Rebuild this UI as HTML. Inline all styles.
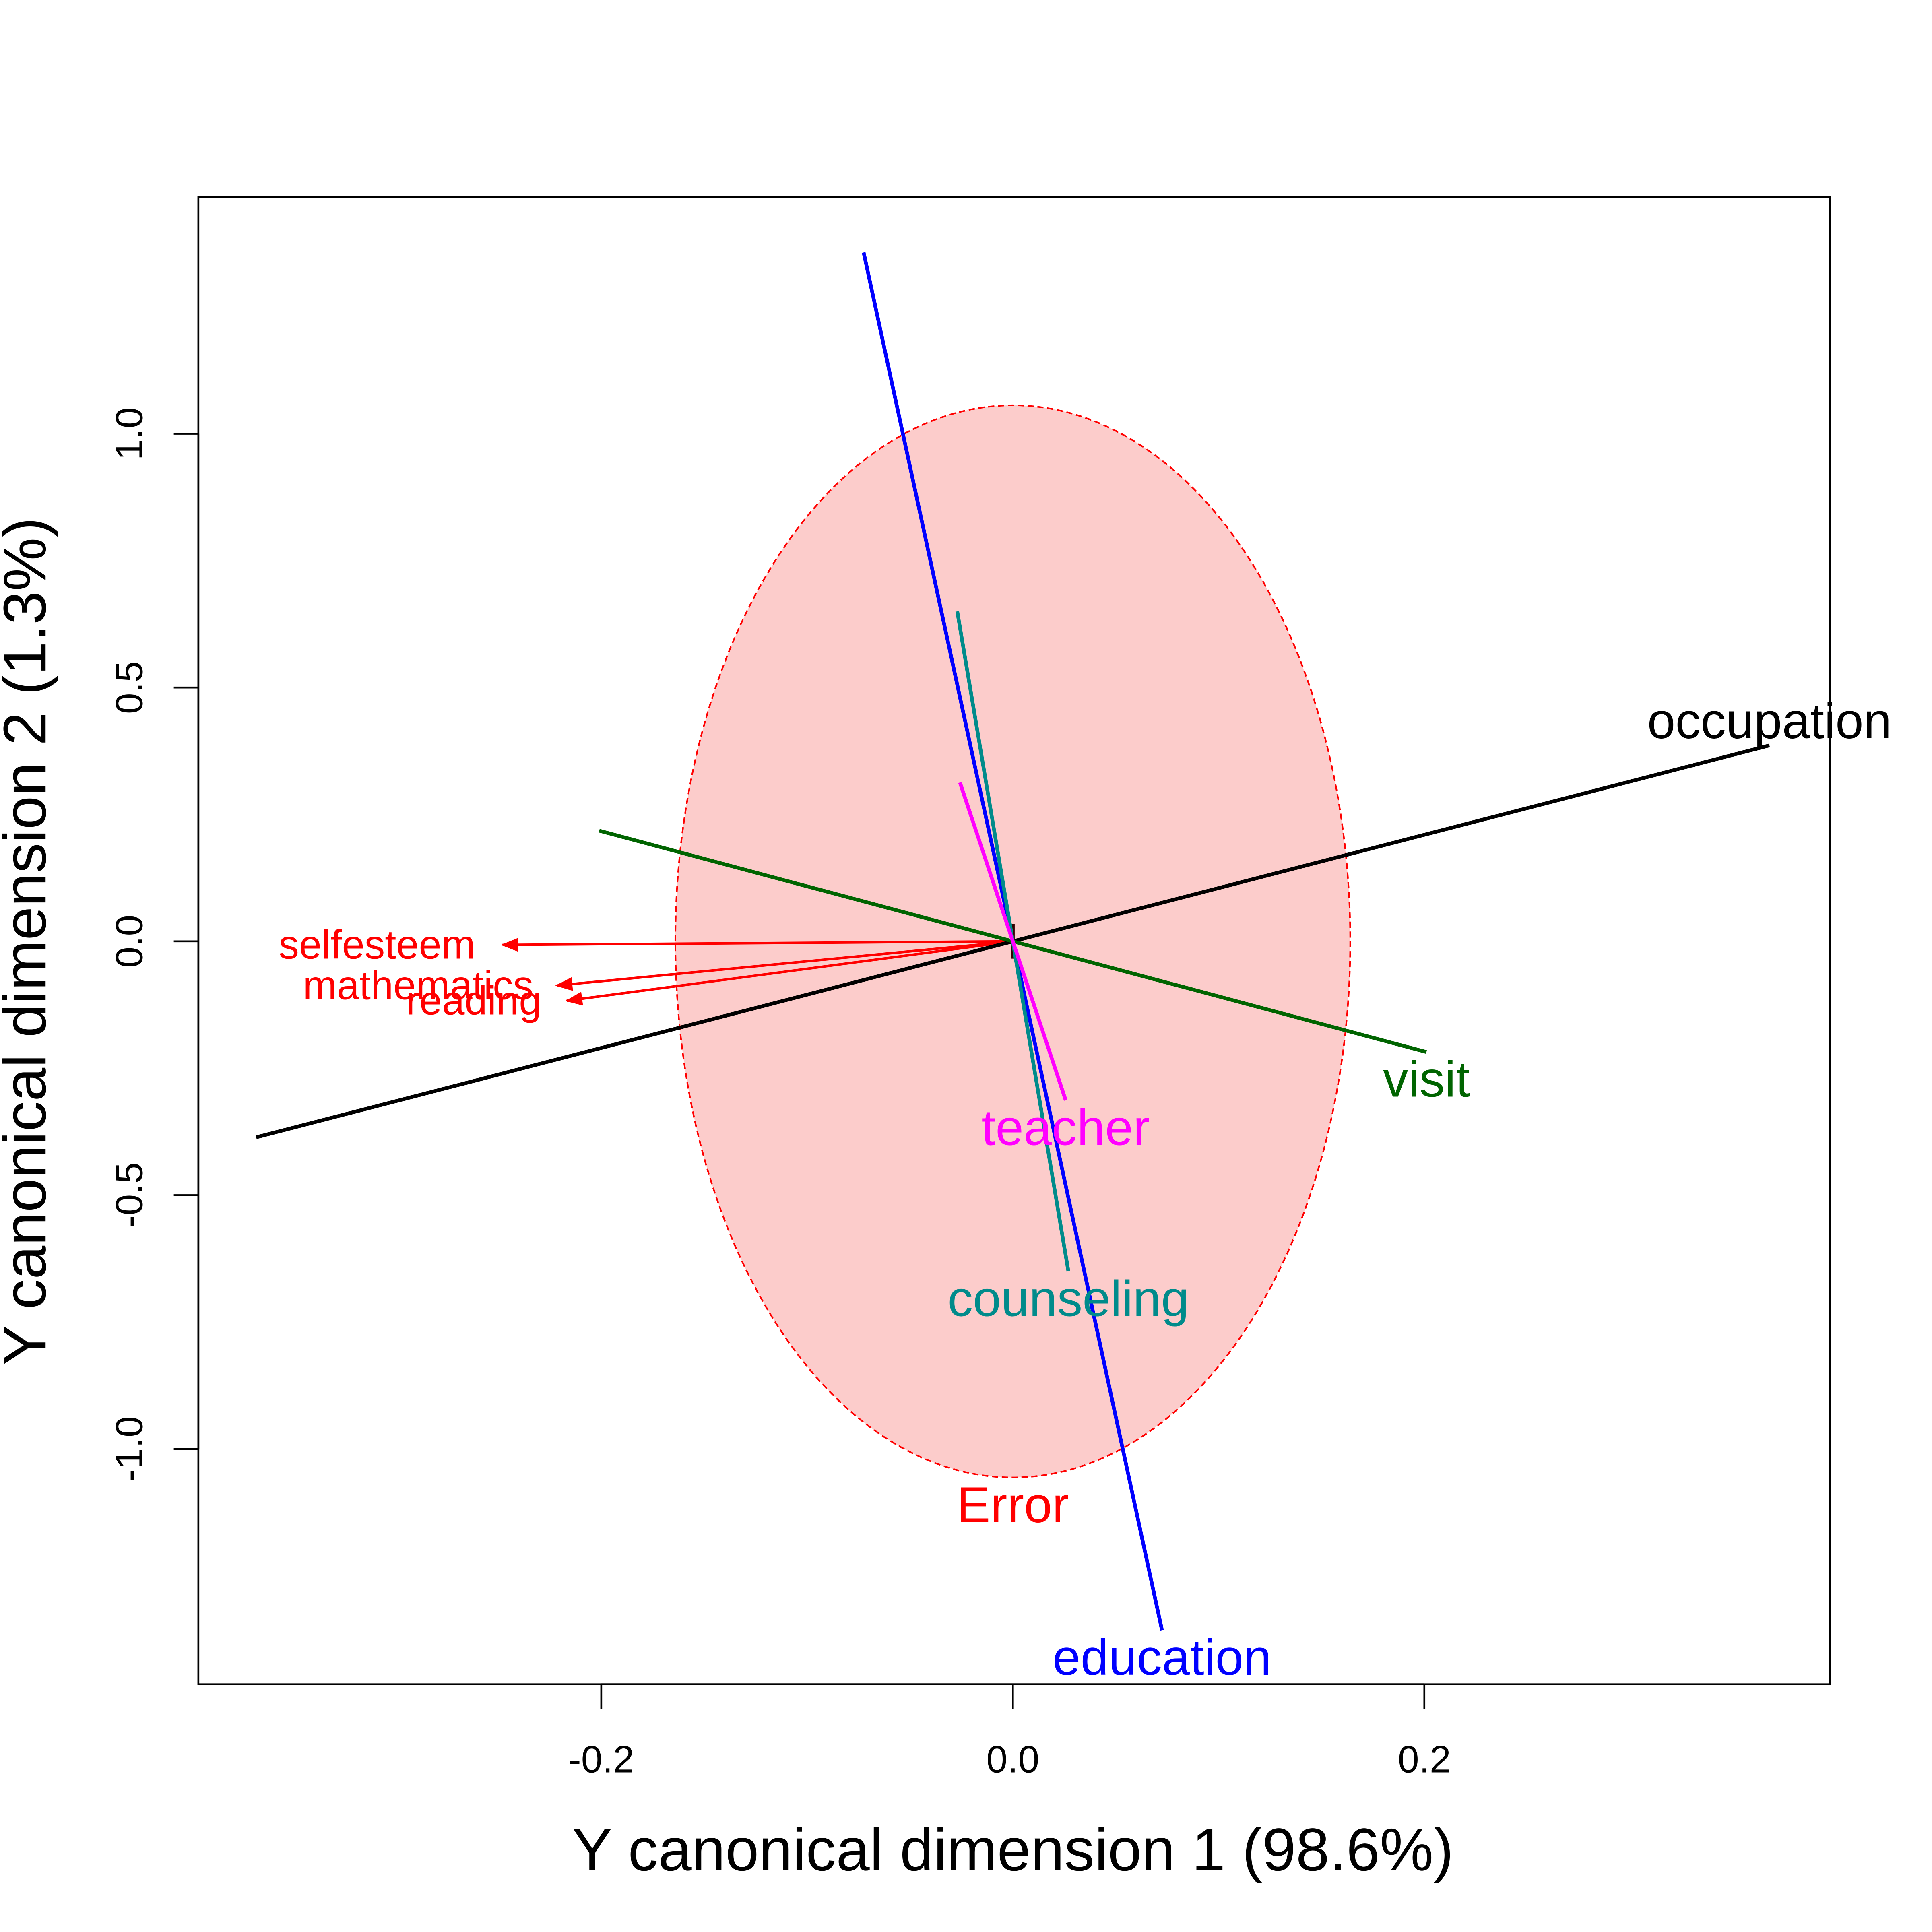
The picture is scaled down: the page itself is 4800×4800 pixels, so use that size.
<!DOCTYPE html>
<html><head><meta charset="utf-8"><style>html,body{margin:0;padding:0;background:#fff}svg{display:block}</style></head>
<body>
<svg id="chart" width="4800" height="4800" viewBox="0 0 1568 1568" xmlns="http://www.w3.org/2000/svg" font-family="'Liberation Sans', Arial, sans-serif"></svg>
<script>
const termNames = ["occupation","visit","education","counseling","teacher"];
const termX = [0.3677, 0.2010, 0.0725, 0.0270, 0.0257];
const termY = [0.386, -0.218, -1.357, -0.650, -0.313];
const termColors = ["#000000","#006400","#0000FF","#008B8B","#FF00FF"];
const respNames = ["selfesteem","mathematics","reading"];
const respX = [-0.248, -0.2216, -0.2168];
const respY = [-0.007, -0.087, -0.117];
const respLabelX = [-0.309, -0.289, -0.262];
const respLabelY = [-0.007, -0.087, -0.117];
const errRx = 0.164, errRy = 1.056;
const xTicks = [-0.2, 0.0, 0.2];
const xTickLabels = ["-0.2","0.0","0.2"];
const yTicks = [-1.0, -0.5, 0.0, 0.5, 1.0];
const yTickLabels = ["-1.0","-0.5","0.0","0.5","1.0"];

const NS = "http://www.w3.org/2000/svg";
const svg = document.getElementById("chart");
const X = v => 822 + v * 1670;
const Y = v => 764 - v * 412;
function mk(tag, attrs, parent) {
  const e = document.createElementNS(NS, tag);
  for (const k in attrs) e.setAttribute(k, attrs[k]);
  (parent || svg).appendChild(e);
  return e;
}
const defs = mk("defs", {});
const mk1 = mk("marker", {id:"arr", viewBox:"0 0 10 10", refX:"9", refY:"5", markerWidth:"22", markerHeight:"14", orient:"auto", markerUnits:"userSpaceOnUse"}, defs);
mk("path", {d:"M0,1 L10,5 L0,9 z", fill:"#FF0000"}, mk1);

const ell = mk("ellipse", {cx:X(0), cy:Y(0), rx:errRx*1670, ry:errRy*412, fill:"#FCCCCB", stroke:"#FF0000", "stroke-width":1.3, "stroke-dasharray":"5,3"});


const et = mk("text", {x:X(0), y:Y(-1.11), "text-anchor":"middle", "dominant-baseline":"central", "font-size":41, fill:"#FF0000"});
et.textContent = "Error";



mk("line", {x1:X(0), y1:Y(0)-14, x2:X(0), y2:Y(0)+14, stroke:"#330000", "stroke-width":3});

for (let i = 0; i < respNames.length; i++) {
  const l = mk("line", {x1:X(0), y1:Y(0), x2:X(respX[i]), y2:Y(respY[i]), stroke:"#FF0000", "stroke-width":2, "marker-end":"url(#arr)"});
  
  
  const t = mk("text", {x:X(respLabelX[i]), y:Y(respLabelY[i]), "text-anchor":"middle", "dominant-baseline":"central", "font-size":33, fill:"#FF0000"});
  t.textContent = respNames[i];
  
  
}

for (let i = 0; i < termNames.length; i++) {
  const l = mk("line", {x1:X(-termX[i]), y1:Y(-termY[i]), x2:X(termX[i]), y2:Y(termY[i]), stroke:termColors[i], "stroke-width":3});
  
  
  const t = mk("text", {x:X(termX[i]), y:Y(termY[i]) + 22, "text-anchor":"middle", "dominant-baseline":"central", "font-size":41, fill:termColors[i]});
  t.textContent = termNames[i];
  if (i === 0) t.setAttribute("y", Y(termY[i]) - 20);
  
  
}

const box = mk("rect", {x:161, y:160, width:1324, height:1207, fill:"none", stroke:"#000", "stroke-width":1.5});



const xa = mk("g", {});


mk("line", {x1:X(xTicks[0]), y1:1367, x2:X(xTicks[xTicks.length-1]), y2:1367, stroke:"#000", "stroke-width":1.5}, xa);
for (let i = 0; i < xTicks.length; i++) {
  mk("line", {x1:X(xTicks[i]), y1:1367, x2:X(xTicks[i]), y2:1387, stroke:"#000", "stroke-width":1.5}, xa);
  const t = mk("text", {x:X(xTicks[i]), y:1428, "text-anchor":"middle", "dominant-baseline":"central", "font-size":31}, xa);
  t.textContent = xTickLabels[i];
  
  
}
const ya = mk("g", {});


mk("line", {x1:161, y1:Y(yTicks[0]), x2:161, y2:Y(yTicks[yTicks.length-1]), stroke:"#000", "stroke-width":1.5}, ya);
for (let i = 0; i < yTicks.length; i++) {
  mk("line", {x1:141, y1:Y(yTicks[i]), x2:161, y2:Y(yTicks[i]), stroke:"#000", "stroke-width":1.5}, ya);
  const t = mk("text", {x:0, y:0, transform:`translate(105,${Y(yTicks[i])}) rotate(-90)`, "text-anchor":"middle", "dominant-baseline":"central", "font-size":31}, ya);
  t.textContent = yTickLabels[i];
  
  
}
const xt = mk("text", {x:822, y:1501, "text-anchor":"middle", "dominant-baseline":"central", "font-size":49});
xt.textContent = "Y canonical dimension 1 (98.6%)";


const yt = mk("text", {x:0, y:0, transform:"translate(20,764) rotate(-90)", "text-anchor":"middle", "dominant-baseline":"central", "font-size":49});
yt.textContent = "Y canonical dimension 2 (1.3%)";


</script>
</body></html>
